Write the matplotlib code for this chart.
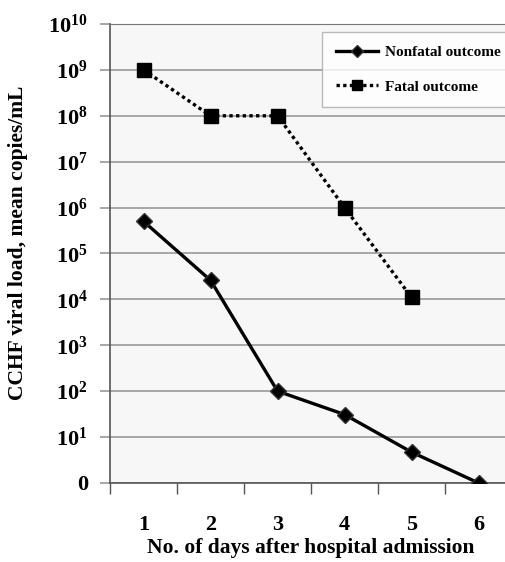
import math
import matplotlib.pyplot as plt
from matplotlib.ticker import FixedLocator, FuncFormatter

plt.rcParams['font.family'] = 'Liberation Serif'
plt.rcParams['font.weight'] = 'bold'
plt.rcParams['axes.labelweight'] = 'bold'
plt.rcParams['mathtext.fontset'] = 'custom'
plt.rcParams['mathtext.rm'] = 'Liberation Serif:bold'
plt.rcParams['mathtext.bf'] = 'Liberation Serif:bold'

days = [1, 2, 3, 4, 5, 6]
nonfatal = [5e5, 2.6e4, 100, 31, 4.7, 1]
fatal_days = [1, 2, 3, 4, 5]
fatal = [1e9, 1e8, 1e8, 1e6, 1.1e4]
decades = list(range(0, 11))


def decade_label(v, pos):
    if v <= 1:
        return '0'
    return r'$\mathbf{10^{%d}}$' % round(math.log10(v))


fig = plt.figure(figsize=(5.05, 5.62), dpi=100)
ax = fig.add_axes([0.218, 0.1406, 0.796, 0.8167])
ax.set_facecolor('#f7f7f7')

ax.plot(days, nonfatal, color='black', lw=2.4, marker='D', ms=8,
        mfc='black', mec='#333333', label='Nonfatal outcome', zorder=3)
ax.plot(fatal_days, fatal, color='black', lw=2.4, ls=(0, (1, 1)), marker='s',
        ms=9.5, mfc='black', mec='black', label='Fatal outcome', zorder=3)

ax.set_yscale('log')
ax.set_ylim(1, 1e10)
ax.set_xlim(0.5, 6.5)
ax.yaxis.set_major_locator(FixedLocator([10.0 ** d for d in decades]))
ax.yaxis.set_minor_locator(FixedLocator([]))
ax.yaxis.set_major_formatter(FuncFormatter(decade_label))
ax.grid(axis='y', color='#a0a0a0', lw=1.3)
ax.set_axisbelow(True)

# category labels sit between the boundary tick marks
ax.set_xticks([0.5 + i for i in range(7)])
ax.set_xticklabels([])
ax.set_xticks(days, minor=True)
ax.set_xticklabels([str(d) for d in days], minor=True)
ax.tick_params(axis='x', which='major', length=8, color='#555555', width=1)
ax.tick_params(axis='x', which='minor', length=0, pad=23, labelsize=16)
ax.tick_params(axis='y', length=7, color='#a0a0a0', width=1.3, pad=9, labelsize=16)

for s in ['top', 'right']:
    ax.spines[s].set_color('#777777')
for s in ['left', 'bottom']:
    ax.spines[s].set_color('#555555')
    ax.spines[s].set_linewidth(1.2)

ax.set_xlabel('No. of days after hospital admission', fontsize=15.5, labelpad=2)
ax.set_ylabel('CCHF viral load, mean copies/mL', fontsize=15.5)
ax.yaxis.set_label_coords(-0.204, 0.523)

leg = ax.legend(loc='upper left', bbox_to_anchor=(0.527, 0.983), borderaxespad=0,
                numpoints=1, handlelength=2.75, handletextpad=0.5, fontsize=11,
                frameon=True, fancybox=False, borderpad=0.9,
                labelspacing=1.35, edgecolor='#aaaaaa', markerscale=0.75)
leg.get_frame().set_linewidth(1.0)

fig.savefig('out.png', dpi=100)
